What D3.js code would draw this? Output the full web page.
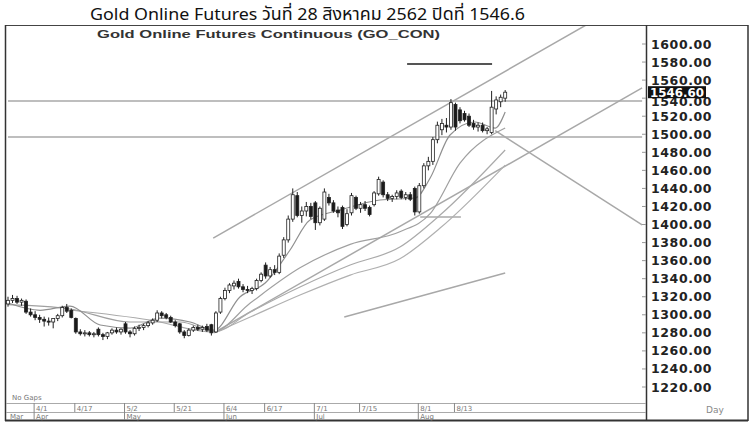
<!DOCTYPE html>
<html><head><meta charset="utf-8">
<script src="https://cdn.jsdelivr.net/npm/d3@7"></script>
<style>body{margin:0;background:#fff}svg{display:block}</style>
</head><body>
<svg id="c" width="750" height="422"></svg>
<script>
const titleText = "Gold Online Futures วันที่ 28 สิงหาคม 2562 ปิดที่ 1546.6";
const subtitleText = "Gold  Online  Futures  Continuous  (GO_CON)";
const opens  = [1312,1316,1318,1314,1315,1303,1300,1297,1295,1293,1292,1296,1299,1308,1305,1296,1281,1279,1280,1278,1284,1278,1276,1280,1283,1281,1290,1281,1279,1285,1286,1288,1291,1294,1302,1300,1297,1292,1290,1281,1277,1283,1286,1284,1287,1289,1281,1303,1318,1327,1332,1337,1331,1328,1327,1329,1338,1355,1343,1350,1347,1366,1383,1406,1432,1410,1415,1420,1424,1402,1406,1430,1424,1416,1419,1400,1413,1430,1418,1422,1419,1422,1434,1447,1433,1429,1431,1437,1430,1433,1440,1414,1443,1465,1470,1494,1505,1510,1508,1533,1527,1523,1520,1512,1508,1510,1504,1502,1528,1536,1540];
const highs  = [1320,1322,1321,1318,1317,1307,1304,1300,1298,1297,1296,1301,1310,1312,1307,1297,1284,1283,1282,1281,1286,1280,1281,1285,1286,1285,1292,1283,1287,1289,1290,1293,1296,1305,1304,1302,1299,1294,1291,1283,1285,1288,1289,1288,1290,1290,1304,1320,1330,1335,1338,1340,1334,1332,1331,1340,1347,1358,1353,1355,1368,1386,1410,1440,1436,1420,1425,1424,1426,1420,1440,1434,1427,1420,1421,1417,1435,1432,1425,1426,1421,1437,1453,1449,1436,1433,1438,1439,1436,1436,1442,1446,1468,1475,1497,1514,1517,1518,1539,1535,1530,1526,1523,1516,1513,1513,1508,1548,1542,1544,1549];
const lows   = [1309,1313,1312,1310,1301,1298,1294,1291,1287,1288,1285,1293,1297,1302,1296,1279,1277,1276,1276,1275,1276,1272,1273,1278,1279,1278,1279,1275,1277,1282,1283,1286,1289,1292,1296,1295,1291,1286,1279,1274,1276,1281,1282,1281,1281,1277,1280,1301,1316,1324,1328,1329,1325,1324,1323,1327,1336,1340,1341,1344,1345,1363,1380,1403,1408,1402,1409,1406,1394,1399,1404,1421,1413,1408,1395,1398,1410,1416,1413,1415,1409,1420,1432,1430,1426,1425,1428,1428,1427,1426,1410,1412,1440,1460,1466,1490,1499,1502,1505,1504,1512,1514,1508,1505,1503,1502,1500,1500,1522,1530,1536];
const closes = [1316,1318,1314,1316,1303,1300,1297,1295,1293,1292,1296,1299,1308,1304,1297,1281,1279,1280,1278,1279,1278,1276,1280,1283,1281,1284,1281,1279,1285,1286,1288,1291,1294,1302,1299,1297,1292,1288,1281,1277,1283,1286,1284,1286,1283,1280,1302,1318,1327,1333,1335,1331,1328,1327,1329,1338,1345,1343,1350,1347,1365,1383,1406,1433,1410,1415,1420,1409,1402,1418,1436,1424,1415,1413,1398,1412,1432,1418,1422,1418,1411,1435,1450,1433,1429,1431,1435,1430,1433,1428,1414,1443,1465,1470,1494,1510,1512,1508,1535,1508,1515,1516,1510,1508,1510,1504,1506,1530,1538,1541,1546.6];
const lastPrice = 1546.60;
const priceTicks = [1600,1580,1560,1540,1520,1500,1480,1460,1440,1420,1400,1380,1360,1340,1320,1300,1280,1260,1240,1220];
const dateTickLabels = ["4/1","4/17","5/2","5/21","6/4","6/17","7/1","7/15","8/1","8/13"];
const dateTickBars   = [6,15,26,37,48,57,68,78,91,99];
const monthLabels = ["Mar","Apr","May","Jun","Jul","Aug"];
const monthBars   = [0,6,26,48,68,91];
// overlay curves: [bar, price]
const maFast = [[0,1313],[7.1,1305],[13.7,1309.7],[20.4,1288.7],[27,1285.3],[33.6,1296.4],[40.3,1292],[45.6,1283.1],[51.3,1319.7],[56.9,1335.2],[62.4,1371.8],[66.8,1405],[73.5,1416],[82.3,1427.2],[90.1,1429.4],[93.4,1451.5],[97.8,1499.2],[103.3,1513.6],[107.8,1506.9],[110,1524.7]];
const maMid  = [[0,1311.2],[13.7,1306.4],[27,1292],[38.1,1292],[45.6,1282],[53.6,1313],[64.6,1352],[75.7,1378],[86.7,1392],[93.4,1412],[100,1468],[110,1506.9]];
const maSlow = [[13.7,1305.3],[31.4,1294.2],[45.6,1281],[53.6,1303],[64.6,1330.8],[75.7,1355.1],[86.7,1375],[95.6,1410.5],[110,1482.6]];
const maLong = [[45.6,1279.8],[53.6,1297.5],[64.6,1321.9],[75.7,1344],[86.7,1362],[95.6,1396.1],[110,1465.9]];
// drawn lines: [bar1, price1, bar2, price2]
const trendLines = [
  [45.4,1385,127.9,1621],
  [45.8,1280.9,140.3,1551.3],
  [107.8,1504,140.3,1399.5],
  [0,1536.8,140.3,1536.8],
  [0,1497,140.3,1497],
  [74.4,1297.5,110,1346.3],
  [91.2,1408.3,100.2,1408.3]
];
const markLines = [[88.3,1577.8,107.1,1577.8]];

const svg = d3.select("#c");
const x = d3.scaleLinear().domain([0,141]).range([8,645.3]);
const y = d3.scaleLinear().domain([1220,1600]).range([387,44]);

svg.append("rect").attr("width",750).attr("height",422).attr("fill","#fff");

// titles
svg.append("text").attr("x",90).attr("y",20).attr("font-family","'Noto Sans Thai','Noto Sans',sans-serif")
  .attr("font-size",17).attr("fill","#111").attr("textLength",435).attr("lengthAdjust","spacingAndGlyphs").text(titleText);

// frame
const frame = svg.append("g").attr("fill","none");
frame.append("line").attr("x1",5).attr("x2",748).attr("y1",25.5).attr("y2",25.5).attr("stroke","#444").attr("stroke-width",1);
frame.append("line").attr("x1",5.5).attr("x2",5.5).attr("y1",25).attr("y2",421).attr("stroke","#333").attr("stroke-width",1.5);
frame.append("line").attr("x1",646.5).attr("x2",646.5).attr("y1",25).attr("y2",421).attr("stroke","#333").attr("stroke-width",1.5);
frame.append("line").attr("x1",748).attr("x2",748).attr("y1",25).attr("y2",421).attr("stroke","#333").attr("stroke-width",1.5);
frame.append("line").attr("x1",5).attr("x2",748).attr("y1",420.5).attr("y2",420.5).attr("stroke","#333").attr("stroke-width",2);

svg.append("text").attr("x",97).attr("y",38).attr("font-family","'Liberation Sans',Arial,sans-serif").attr("font-weight","bold")
  .attr("font-size",11.5).attr("fill","#333").attr("textLength",343).attr("lengthAdjust","spacingAndGlyphs").text(subtitleText);

svg.append("defs").append("clipPath").attr("id","plot").append("rect").attr("x",6).attr("y",26).attr("width",640).attr("height",376);
const plot = svg.append("g").attr("clip-path","url(#plot)");

// trend lines
plot.selectAll("line.tl").data(trendLines).join("line").attr("class","tl")
  .attr("x1",d=>x(d[0])).attr("y1",d=>y(d[1])).attr("x2",d=>x(d[2])).attr("y2",d=>y(d[3]))
  .attr("stroke","#a8a8a8").attr("stroke-width",1.5);
plot.selectAll("line.ml").data(markLines).join("line").attr("class","ml")
  .attr("x1",d=>x(d[0])).attr("y1",d=>y(d[1])).attr("x2",d=>x(d[2])).attr("y2",d=>y(d[3]))
  .attr("stroke","#555").attr("stroke-width",2);

// MA curves
const line = d3.line().x(d=>x(d[0])).y(d=>y(d[1])).curve(d3.curveMonotoneX);
[[maLong,"#b0b0b0"],[maSlow,"#aaaaaa"],[maMid,"#a0a0a0"],[maFast,"#909090"]].forEach(([s,c])=>{
  plot.append("path").attr("d",line(s)).attr("fill","none").attr("stroke",c).attr("stroke-width",1.2);
});

// candles
const bars = d3.range(closes.length);
const cg = plot.append("g");
cg.selectAll("line.w").data(bars).join("line").attr("class","w")
  .attr("x1",i=>x(i)).attr("x2",i=>x(i)).attr("y1",i=>y(highs[i])).attr("y2",i=>y(lows[i]))
  .attr("stroke","#222").attr("stroke-width",1);
cg.selectAll("rect.b").data(bars).join("rect").attr("class","b")
  .attr("x",i=>x(i)-1.5).attr("width",3)
  .attr("y",i=>y(Math.max(opens[i],closes[i])))
  .attr("height",i=>Math.max(1,Math.abs(y(opens[i])-y(closes[i]))))
  .attr("fill",i=>closes[i]>=opens[i]?"#fff":"#1a1a1a")
  .attr("stroke","#222").attr("stroke-width",0.8);

// price axis
const ax = svg.append("g");
ax.selectAll("line.pt").data(priceTicks).join("line").attr("class","pt")
  .attr("x1",642).attr("x2",646).attr("y1",d=>y(d)).attr("y2",d=>y(d)).attr("stroke","#999");
ax.selectAll("text.pl").data(priceTicks.filter(d=>d!==1540)).join("text").attr("class","pl")
  .attr("x",651).attr("y",d=>y(d)).attr("dy","0.36em")
  .attr("font-family","'DejaVu Sans',Verdana,sans-serif").attr("font-weight","bold").attr("font-size",12.5)
  .attr("fill","#222").attr("letter-spacing",0.6).text(d=>d.toFixed(2));
// 1540 label, partly hidden under the last-price box as in the reference
ax.append("text").attr("x",651).attr("y",y(1540)+3).attr("dy","0.36em")
  .attr("font-family","'DejaVu Sans',Verdana,sans-serif").attr("font-weight","bold").attr("font-size",12.5)
  .attr("fill","#222").attr("letter-spacing",0.6).text((1540).toFixed(2));
ax.append("rect").attr("x",648).attr("y",y(lastPrice)-6).attr("width",58).attr("height",12).attr("fill","#111");
ax.append("text").attr("x",650).attr("y",y(lastPrice)).attr("dy","0.36em")
  .attr("font-family","'DejaVu Sans',Verdana,sans-serif").attr("font-weight","bold").attr("font-size",12)
  .attr("fill","#fff").attr("textLength",54).attr("lengthAdjust","spacingAndGlyphs").text(lastPrice.toFixed(2));
ax.append("text").attr("x",706).attr("y",413).attr("font-family","'DejaVu Sans',sans-serif").attr("font-size",9)
  .attr("fill","#888").text("Day");

// date axis
const da = svg.append("g");
da.append("text").attr("x",12).attr("y",400).attr("font-family","'DejaVu Sans',sans-serif").attr("font-size",7).attr("fill","#777").text("No Gaps");
da.append("line").attr("x1",6).attr("x2",646).attr("y1",403.5).attr("y2",403.5).attr("stroke","#aaa");
da.append("line").attr("x1",6).attr("x2",646).attr("y1",412.5).attr("y2",412.5).attr("stroke","#aaa");
da.selectAll("line.dt").data(dateTickBars).join("line").attr("class","dt")
  .attr("x1",d=>x(d)-1).attr("x2",d=>x(d)-1).attr("y1",403).attr("y2",412).attr("stroke","#888");
da.selectAll("text.dl").data(dateTickLabels).join("text").attr("class","dl")
  .attr("x",(d,i)=>x(dateTickBars[i])+1).attr("y",410.5)
  .attr("font-family","'DejaVu Sans',sans-serif").attr("font-size",7).attr("fill","#777").text(d=>d);
da.selectAll("line.mt").data(monthBars.filter(b=>b>0)).join("line").attr("class","mt")
  .attr("x1",d=>x(d)-1).attr("x2",d=>x(d)-1).attr("y1",412).attr("y2",420).attr("stroke","#888");
da.selectAll("text.mlab").data(monthLabels).join("text").attr("class","mlab")
  .attr("x",(d,i)=>x(monthBars[i])+(i===0?2:1)).attr("y",419)
  .attr("font-family","'DejaVu Sans',sans-serif").attr("font-size",7).attr("fill","#777").text(d=>d);
</script>
</body></html>
